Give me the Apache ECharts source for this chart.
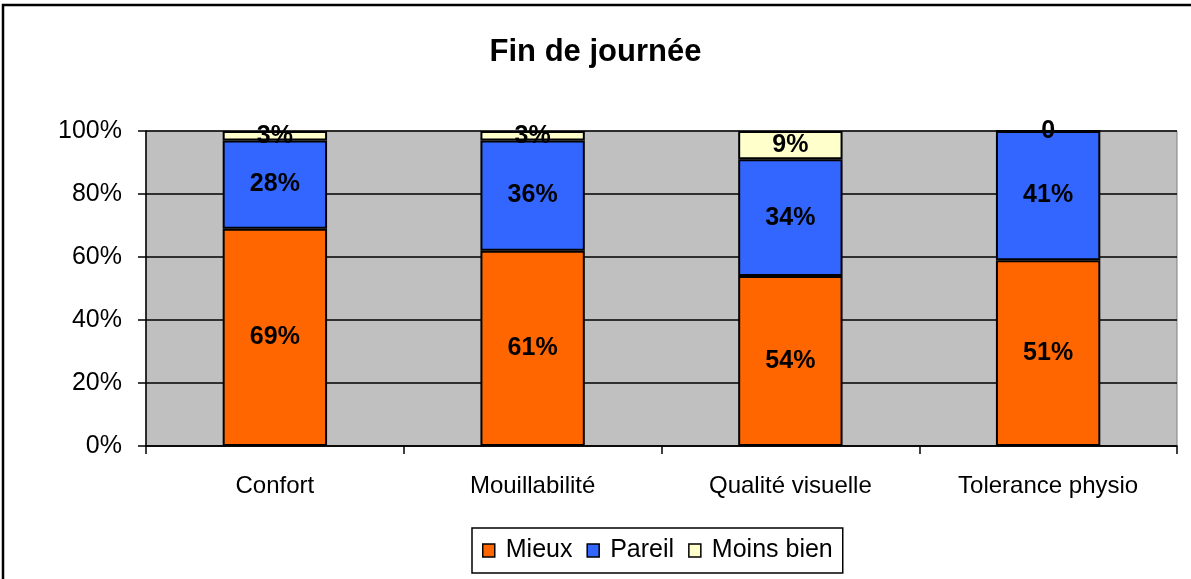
<!DOCTYPE html>
<html>
<head>
<meta charset="utf-8">
<script src="https://cdn.jsdelivr.net/npm/echarts@6/dist/echarts.min.js"></script>
<style>
  html, body { margin: 0; padding: 0; background: #fff; }
  #chart { width: 1191px; height: 579px; }
</style>
</head>
<body>
<div id="chart"></div>
<script>
// categories and stacked shares (as drawn, in %)
const categories = ['Confort', 'Mouillabilité', 'Qualité visuelle', 'Tolerance physio'];
const mieux = [69, 62, 54, 59];
const pareil = [28, 35, 37, 41];
const moinsBien = [3, 3, 9, 0];
// data label texts as printed on the chart
const mieuxLabels = ['69%', '61%', '54%', '51%'];
const pareilLabels = ['28%', '36%', '34%', '41%'];
const moinsBienLabels = ['3%', '3%', '9%', '0'];
const yTicks = [0, 20, 40, 60, 80, 100];

const labelStyle = (texts) => ({
    show: true,
    position: 'inside',
    fontFamily: 'Liberation Sans',
    fontWeight: 'bold',
    fontSize: 25,
    color: '#000',
    formatter: (p) => texts[p.dataIndex]
});

const barSeries = (name, data, color, texts) => ({
    name: name,
    type: 'bar',
    stack: 'total',
    barWidth: '40.5%',
    data: data,
    itemStyle: { color: color, borderColor: '#000', borderWidth: 2 },
    label: labelStyle(texts)
});

const myChart = echarts.init(document.getElementById('chart'));
const option = {
    animation: false,
    textStyle: { fontFamily: 'Liberation Sans' },
    title: {
        text: 'Fin de journée',
        left: 'center',
        top: 32,
        textStyle: { fontFamily: 'Liberation Sans', fontWeight: 'bold', fontSize: 31, color: '#000' }
    },
    graphic: [{
        type: 'rect',
        shape: { x: 3, y: 5, width: 1200, height: 600 },
        style: { fill: 'none', stroke: '#000', lineWidth: 2.5 },
        silent: true
    }],
    grid: {
        left: 146,
        right: 14,
        top: 131,
        bottom: 133,
        show: true,
        backgroundColor: '#C0C0C0',
        borderColor: '#808080',
        borderWidth: 1
    },
    legend: {
        left: 472,
        top: 528,
        padding: [10, 10, 10, 10],
        itemGap: 14,
        itemWidth: 12,
        itemHeight: 13,
        borderColor: '#000',
        borderWidth: 1.5,
        icon: 'rect',
        itemStyle: { borderColor: '#000', borderWidth: 1.5 },
        textStyle: { fontFamily: 'Liberation Sans', fontSize: 25, color: '#000', padding: [0, 0, 0, 6] },
        data: ['Mieux', 'Pareil', 'Moins bien']
    },
    xAxis: {
        type: 'category',
        data: categories,
        axisLine: { lineStyle: { color: '#000', width: 1.5 } },
        axisTick: { show: true, length: 8, lineStyle: { color: '#000', width: 1.5 } },
        axisLabel: { margin: 28, fontSize: 24, color: '#000', fontFamily: 'Liberation Sans' }
    },
    yAxis: {
        type: 'value',
        min: 0,
        max: 100,
        interval: 20,
        axisLine: { show: true, lineStyle: { color: '#000', width: 1.5 } },
        axisTick: { show: true, length: 8, lineStyle: { color: '#000', width: 1.5 } },
        splitLine: { lineStyle: { color: '#000', width: 1.5 } },
        axisLabel: {
            margin: 24,
            fontSize: 25,
            color: '#000',
            fontFamily: 'Liberation Sans',
            formatter: (v) => yTicks.includes(v) ? v + '%' : ''
        }
    },
    series: [
        barSeries('Mieux', mieux, '#FF6600', mieuxLabels),
        barSeries('Pareil', pareil, '#3366FF', pareilLabels),
        barSeries('Moins bien', moinsBien, '#FFFFCC', moinsBienLabels)
    ]
};
myChart.setOption(option);
</script>
</body>
</html>
